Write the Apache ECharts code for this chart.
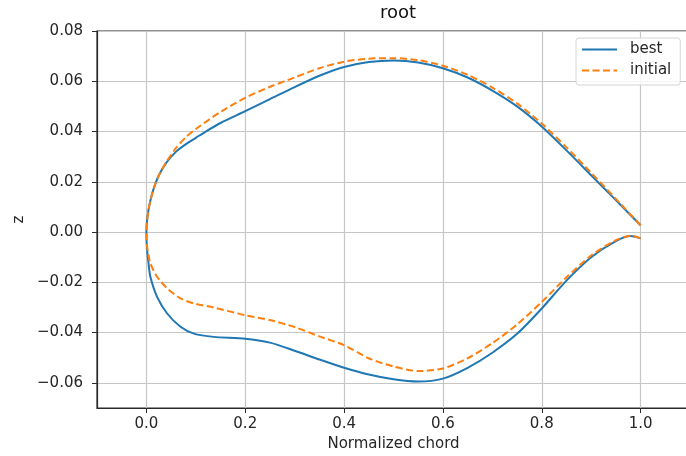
<!DOCTYPE html>
<html>
<head>
<meta charset="utf-8">
<script src="https://cdn.jsdelivr.net/npm/echarts@6/dist/echarts.min.js"></script>
<style>
html,body{margin:0;padding:0;background:#fff;overflow:hidden;}
#chart{width:692px;height:456px;}
</style>
</head>
<body>
<div id="chart"></div>
<script>
// ---- data ----
const titleText = 'root';
const xName = 'Normalized chord';
const yName = 'z';
const seriesNames = ['best', 'initial'];
const xTicks = [0.0, 0.2, 0.4, 0.6, 0.8, 1.0];
const yTicks = [-0.06, -0.04, -0.02, 0.00, 0.02, 0.04, 0.06, 0.08];

// best: trailing edge -> upper surface -> leading edge -> lower surface -> trailing edge
const bestX = [1.0, 0.95, 0.9, 0.85, 0.8, 0.75, 0.7, 0.65, 0.6, 0.55, 0.5, 0.45, 0.4, 0.35, 0.3, 0.25, 0.2, 0.15, 0.12, 0.1, 0.08, 0.06, 0.04, 0.025, 0.015, 0.008, 0.004, 0.001, 0.0,
  0.001, 0.004, 0.008, 0.0216, 0.042, 0.069, 0.096, 0.136, 0.2, 0.25, 0.3, 0.35, 0.4, 0.45, 0.5, 0.55, 0.6, 0.65, 0.7, 0.75, 0.8, 0.85, 0.9, 0.95, 0.98, 1.0];
const bestZ = [0.0027, 0.0127, 0.0226, 0.0325, 0.0420, 0.0500, 0.0563, 0.0615, 0.0652, 0.0675, 0.0683, 0.0677, 0.0657, 0.0622, 0.0577, 0.0529, 0.0481, 0.0434, 0.0400, 0.0375, 0.0350, 0.0320, 0.0275, 0.0225, 0.0175, 0.0125, 0.0085, 0.0040, 0.0,
  -0.0060, -0.0120, -0.0178, -0.0258, -0.0324, -0.0377, -0.0404, -0.0417, -0.0424, -0.0440, -0.0472, -0.0507, -0.0540, -0.0567, -0.0586, -0.0595, -0.0583, -0.0540, -0.0480, -0.0405, -0.0304, -0.0193, -0.0100, -0.0036, -0.0016, -0.0025];

const initialX = [1.0, 0.95, 0.9, 0.85, 0.8, 0.75, 0.7, 0.65, 0.6, 0.55, 0.5, 0.45, 0.4, 0.35, 0.3, 0.25, 0.2, 0.15, 0.1, 0.08, 0.06, 0.04, 0.025, 0.015, 0.008, 0.004, 0.001, 0.0,
  0.001, 0.004, 0.008, 0.0216, 0.042, 0.069, 0.096, 0.136, 0.2, 0.25, 0.3, 0.35, 0.4, 0.45, 0.5, 0.55, 0.6, 0.65, 0.7, 0.75, 0.8, 0.85, 0.9, 0.95, 0.98, 1.0];
const initialZ = [0.0027, 0.0132, 0.0236, 0.0337, 0.0432, 0.0512, 0.0575, 0.0626, 0.0662, 0.0684, 0.0692, 0.0690, 0.0678, 0.0652, 0.0615, 0.0578, 0.0534, 0.0478, 0.0410, 0.0378, 0.0335, 0.0278, 0.0225, 0.0175, 0.0125, 0.0085, 0.0040, 0.0,
  -0.0050, -0.0090, -0.0125, -0.0178, -0.0224, -0.0264, -0.0284, -0.0300, -0.0331, -0.0350, -0.0378, -0.0415, -0.0450, -0.0502, -0.0535, -0.0553, -0.0543, -0.0502, -0.0442, -0.0368, -0.0278, -0.0180, -0.0093, -0.0032, -0.0015, -0.0025];

// ---- chart ----
const pairs = (xs, ys) => xs.map((x, i) => [x, ys[i]]);
const fontFamily = 'DejaVu Sans';
const txt = '#262626';
const fmtY = v => v.toFixed(2).replace('-', '\u2212');
const fmtX = v => v.toFixed(1).replace('-', '\u2212');

const chart = echarts.init(document.getElementById('chart'), null, {renderer: 'canvas'});
chart.setOption({
  animation: false,
  backgroundColor: '#ffffff',
  textStyle: {fontFamily: fontFamily},
  title: {
    text: titleText,
    left: 393, top: -1, textAlign: 'center',
    textStyle: {fontFamily: fontFamily, fontSize: 18, fontWeight: 'normal', color: '#111'}
  },
  grid: {
    left: 97, top: 31, bottom: 48, right: 2,
    outerBoundsMode: 'none', containLabel: false,
    show: true, borderColor: '#2a2a2a', borderWidth: 1.2, backgroundColor: 'transparent'
  },
  legend: {
    orient: 'vertical',
    left: 576, top: 38,
    padding: [4, 9, 7, 5],
    itemWidth: 35, itemHeight: 14, itemGap: 6,
    backgroundColor: 'rgba(255,255,255,0.8)',
    borderColor: '#d4d4d4', borderWidth: 1, borderRadius: 3,
    itemStyle: {opacity: 0},
    textStyle: {fontFamily: fontFamily, fontSize: 15, color: txt, padding: [0, 0, 0, 8]},
    data: seriesNames
  },
  xAxis: {
    type: 'value', min: -0.1, max: 1.1,
    name: xName, nameLocation: 'middle', nameGap: 28,
    nameTextStyle: {fontFamily: fontFamily, fontSize: 15, color: txt},
    axisLine: {show: true, onZero: false, lineStyle: {color: '#2a2a2a', width: 1.2}},
    axisTick: {show: true, length: 5, inside: false, customValues: xTicks, lineStyle: {color: '#2a2a2a', width: 1}},
    axisLabel: {customValues: xTicks, formatter: fmtX, margin: 9, fontFamily: fontFamily, fontSize: 15, color: txt},
    splitLine: {show: true, lineStyle: {color: '#c6c6c6', width: 1.2}}
  },
  yAxis: {
    type: 'value', min: -0.07, max: 0.08,
    name: yName, nameLocation: 'middle', nameGap: 70, nameRotate: 90,
    nameTextStyle: {fontFamily: fontFamily, fontSize: 15, color: txt},
    axisLine: {show: true, onZero: false, lineStyle: {color: '#2a2a2a', width: 1.2}},
    axisTick: {show: true, length: 5, inside: false, customValues: yTicks, lineStyle: {color: '#2a2a2a', width: 1}},
    axisLabel: {customValues: yTicks, formatter: fmtY, margin: 14, fontFamily: fontFamily, fontSize: 15, color: txt},
    splitLine: {show: true, lineStyle: {color: '#c6c6c6', width: 1.2}}
  },
  series: [
    {
      name: seriesNames[0], type: 'line', data: pairs(bestX, bestZ),
      showSymbol: false, symbol: 'none', smooth: 0.25,
      lineStyle: {color: '#1f77b4', width: 2},
      itemStyle: {color: '#1f77b4'}
    },
    {
      name: seriesNames[1], type: 'line', data: pairs(initialX, initialZ),
      showSymbol: false, symbol: 'none', smooth: 0.25,
      lineStyle: {color: '#ff7f0e', width: 2, type: [7, 3.5]},
      itemStyle: {color: '#ff7f0e'}
    }
  ]
});
</script>
</body>
</html>
